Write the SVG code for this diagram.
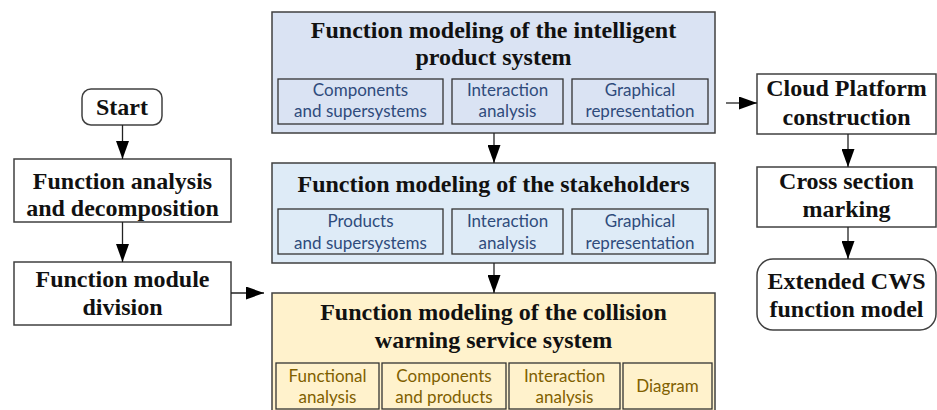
<svg xmlns="http://www.w3.org/2000/svg" width="937" height="410" viewBox="0 0 937 410">
<style>
.b{fill:#fff;stroke:#404040;stroke-width:1.5}
.t{font-family:"Liberation Serif","Times New Roman",serif;font-weight:bold;font-size:24px;fill:#111;text-anchor:middle}
.s{font-family:Lato,"Open Sans",sans-serif;font-size:17px;text-anchor:middle}
.sb{fill:none;stroke:#333;stroke-width:1.3}
.blue{fill:#2f4b7c}
.gold{fill:#7f6000}
.c{stroke:#222;stroke-width:1.3;fill:none}
</style>
<defs>
<marker id="ah" viewBox="0 0 18 13" refX="18" refY="6.5" markerWidth="18" markerHeight="13" markerUnits="userSpaceOnUse" orient="auto">
<path d="M0,0 L18,6.5 L0,13 Z" fill="#000"/>
</marker>
</defs>
<rect width="937" height="410" fill="#fff"/>

<g id="start">
<rect class="b" x="82" y="89" width="80" height="36" rx="9"/>
<text class="t" x="122" y="115">Start</text>
</g>
<g id="func-analysis">
<rect class="b" x="14" y="159" width="217" height="63"/>
<text class="t" x="122.5" y="189">Function analysis</text>
<text class="t" x="122.5" y="216">and decomposition</text>
</g>
<g id="func-module">
<rect class="b" x="14" y="262" width="217" height="63"/>
<text class="t" x="122.5" y="287">Function module</text>
<text class="t" x="122.5" y="315">division</text>
</g>

<g id="intelligent">
<rect x="272" y="12" width="443" height="121" fill="#dae3f3" stroke="#404040" stroke-width="1.5"/>
<text class="t" x="493.5" y="38">Function modeling of the intelligent</text>
<text class="t" x="493.5" y="65">product system</text>
<rect class="sb" x="278" y="79" width="165" height="45"/>
<rect class="sb" x="452" y="79" width="111" height="45"/>
<rect class="sb" x="572" y="79" width="136" height="45"/>
<text class="s blue" x="360.5" y="96">Components</text>
<text class="s blue" x="360.5" y="117">and supersystems</text>
<text class="s blue" x="507.5" y="96">Interaction</text>
<text class="s blue" x="507.5" y="117">analysis</text>
<text class="s blue" x="640" y="96">Graphical</text>
<text class="s blue" x="640" y="117">representation</text>
</g>

<g id="stakeholders">
<rect x="272" y="163" width="443" height="100" fill="#deebf7" stroke="#404040" stroke-width="1.5"/>
<text class="t" x="493.5" y="192">Function modeling of the stakeholders</text>
<rect class="sb" x="278" y="209" width="165" height="45"/>
<rect class="sb" x="452" y="209" width="111" height="45"/>
<rect class="sb" x="572" y="209" width="136" height="45"/>
<text class="s blue" x="360.5" y="227">Products</text>
<text class="s blue" x="360.5" y="249">and supersystems</text>
<text class="s blue" x="507.5" y="227">Interaction</text>
<text class="s blue" x="507.5" y="249">analysis</text>
<text class="s blue" x="640" y="227">Graphical</text>
<text class="s blue" x="640" y="249">representation</text>
</g>

<g id="collision">
<rect x="272" y="293" width="443" height="125" fill="#fff2cc" stroke="#404040" stroke-width="1.5"/>
<text class="t" x="493.5" y="320">Function modeling of the collision</text>
<text class="t" x="493.5" y="348">warning service system</text>
<rect class="sb" x="276" y="363" width="103" height="46"/>
<rect class="sb" x="382" y="363" width="124" height="46"/>
<rect class="sb" x="509" y="363" width="111" height="46"/>
<rect class="sb" x="623" y="363" width="89" height="46"/>
<text class="s gold" x="327.5" y="382">Functional</text>
<text class="s gold" x="327.5" y="403">analysis</text>
<text class="s gold" x="444" y="382">Components</text>
<text class="s gold" x="444" y="403">and products</text>
<text class="s gold" x="564.5" y="382">Interaction</text>
<text class="s gold" x="564.5" y="403">analysis</text>
<text class="s gold" x="667.5" y="392">Diagram</text>
</g>

<g id="cloud">
<rect class="b" x="757" y="74" width="179" height="60"/>
<text class="t" x="846.5" y="96">Cloud Platform</text>
<text class="t" x="846.5" y="125">construction</text>
</g>
<g id="cross">
<rect class="b" x="757" y="167" width="179" height="60"/>
<text class="t" x="846.5" y="189">Cross section</text>
<text class="t" x="846.5" y="217">marking</text>
</g>
<g id="extended">
<rect class="b" x="757" y="259" width="179" height="71" rx="16"/>
<text class="t" x="846.5" y="289">Extended CWS</text>
<text class="t" x="846.5" y="317">function model</text>
</g>

<g id="connectors">
<line class="c" x1="122.5" y1="125" x2="122.5" y2="159" marker-end="url(#ah)"/>
<line class="c" x1="122.5" y1="222" x2="122.5" y2="262" marker-end="url(#ah)"/>
<line class="c" x1="231" y1="293" x2="264" y2="293" marker-end="url(#ah)"/>
<line class="c" x1="494" y1="133" x2="494" y2="163" marker-end="url(#ah)"/>
<line class="c" x1="494" y1="263" x2="494" y2="293" marker-end="url(#ah)"/>
<line class="c" x1="726" y1="103" x2="757" y2="103" marker-end="url(#ah)"/>
<line class="c" x1="848" y1="134" x2="848" y2="167" marker-end="url(#ah)"/>
<line class="c" x1="848" y1="227" x2="848" y2="259" marker-end="url(#ah)"/>
</g>
</svg>
